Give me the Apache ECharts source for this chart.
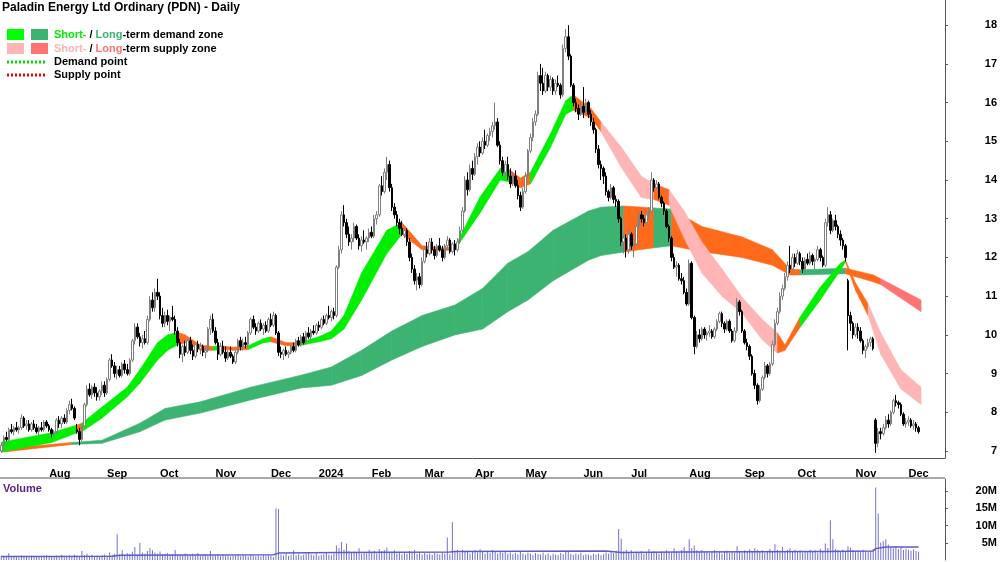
<!DOCTYPE html>
<html>
<head>
<meta charset="utf-8">
<script src="https://cdn.jsdelivr.net/npm/echarts@6/dist/echarts.min.js"></script>
<style>html,body{margin:0;padding:0;background:#fff}#chart{width:1000px;height:562px}</style>
</head>
<body>
<div id="chart"></div>
<script>
// daily bars [open, high, low, close]
var ohlc = [
[7.0,7.2,6.95,7.15],[7.15,7.4,7.1,7.35],[7.35,7.5,7.25,7.3],[7.3,7.6,7.25,7.55],[7.55,7.7,7.45,7.5],[7.5,7.65,7.4,7.6],[7.6,7.75,7.5,7.55],[7.55,7.65,7.45,7.6],[7.6,7.95,7.55,7.85],[7.85,7.9,7.6,7.65],
[7.65,7.8,7.55,7.7],[7.7,7.8,7.5,7.55],[7.55,7.75,7.5,7.7],[7.7,7.8,7.55,7.6],[7.6,7.7,7.45,7.5],[7.5,7.65,7.4,7.6],[7.6,7.75,7.5,7.55],[7.55,7.8,7.5,7.75],[7.75,7.8,7.6,7.65],[7.65,7.7,7.5,7.55],
[7.55,7.6,7.35,7.45],[7.45,7.55,7.4,7.5],[7.5,7.85,7.45,7.8],[7.8,7.9,7.6,7.7],[7.7,7.9,7.6,7.85],[7.85,7.95,7.7,7.75],[7.75,8.1,7.7,8.05],[8.05,8.3,7.95,8.2],[8.2,8.35,8.05,8.1],[8.1,8.15,7.8,7.85],
[7.55,7.7,7.45,7.5],[7.5,7.6,7.15,7.3],[7.3,7.7,7.25,7.65],[7.65,8.25,7.6,8.2],[8.2,8.7,8.15,8.6],[8.6,8.75,8.4,8.45],[8.45,8.7,8.35,8.65],[8.65,8.75,8.4,8.5],[8.5,8.65,8.3,8.4],[8.4,8.6,8.3,8.55],
[8.55,8.8,8.45,8.7],[8.7,8.8,8.4,8.5],[8.5,8.9,8.45,8.85],[8.85,9.4,8.8,9.35],[9.35,9.5,9.15,9.2],[9.2,9.3,8.9,9.0],[9.0,9.2,8.85,9.1],[9.1,9.2,8.9,8.95],[8.95,9.3,8.9,9.25],[9.25,9.35,9.0,9.1],
[9.1,9.25,8.95,9.0],[9.0,9.4,8.95,9.35],[9.35,9.9,9.3,9.85],[9.85,10.3,9.75,10.2],[10.2,10.3,9.9,9.95],[9.95,10.05,9.7,9.8],[9.8,10.0,9.65,9.9],[9.9,10.1,9.75,9.8],[9.8,10.5,9.75,10.4],[10.4,11.0,10.35,10.9],
[10.9,11.1,10.6,10.7],[10.7,11.2,10.6,11.1],[11.1,11.45,10.9,11.0],[11.0,11.1,10.4,10.5],[10.5,10.7,10.2,10.3],[10.3,10.6,10.2,10.5],[10.5,10.65,10.25,10.35],[10.35,10.5,10.1,10.45],[10.45,10.75,10.35,10.4],[10.4,10.5,10.0,10.1],
[10.1,10.2,9.7,9.8],[9.8,9.9,9.4,9.5],[9.5,9.75,9.3,9.7],[9.7,9.85,9.45,9.55],[9.55,9.9,9.5,9.85],[9.85,9.95,9.5,9.6],[9.6,9.75,9.35,9.45],[9.45,9.8,9.4,9.75],[9.75,9.85,9.55,9.65],[9.65,9.8,9.5,9.7],
[9.7,9.75,9.45,9.55],[9.55,9.7,9.4,9.6],[9.6,10.2,9.55,10.15],[10.15,10.5,10.0,10.4],[10.4,10.55,10.05,10.1],[10.1,10.2,9.75,9.8],[9.8,9.9,9.35,9.5],[9.5,9.8,9.45,9.7],[9.7,9.85,9.5,9.55],[9.55,9.7,9.3,9.4],
[9.4,9.6,9.35,9.55],[9.55,9.7,9.4,9.45],[9.45,9.5,9.25,9.3],[9.3,9.6,9.25,9.55],[9.55,9.9,9.5,9.85],[9.85,9.95,9.6,9.7],[9.7,9.9,9.6,9.8],[9.8,9.95,9.65,9.75],[9.75,10.1,9.7,10.05],[10.05,10.45,10.0,10.4],
[10.4,10.5,10.15,10.2],[10.2,10.3,10.0,10.1],[10.1,10.35,10.05,10.3],[10.3,10.4,10.1,10.15],[10.15,10.3,10.0,10.25],[10.25,10.35,10.05,10.1],[10.1,10.45,10.05,10.4],[10.4,10.55,10.2,10.25],[10.25,10.6,10.2,10.5],[10.5,10.55,10.0,10.05],
[10.05,10.1,9.45,9.55],[9.55,9.7,9.4,9.5],[9.5,9.65,9.35,9.6],[9.6,9.7,9.45,9.5],[9.5,9.6,9.4,9.55],[9.55,9.75,9.5,9.7],[9.7,9.8,9.55,9.6],[9.6,9.9,9.55,9.85],[9.85,9.95,9.7,9.75],[9.75,10.0,9.7,9.95],
[9.95,10.05,9.75,9.8],[9.8,10.1,9.75,10.05],[10.05,10.2,9.9,9.95],[9.95,10.15,9.85,10.1],[10.1,10.25,10.0,10.05],[10.05,10.3,10.0,10.25],[10.25,10.35,10.1,10.2],[10.2,10.45,10.15,10.4],[10.4,10.5,10.25,10.3],[10.3,10.55,10.25,10.5],
[10.5,10.75,10.4,10.45],[10.45,10.65,10.35,10.6],[10.6,10.7,10.4,10.5],[10.5,11.8,10.45,11.75],[11.75,12.3,11.7,12.2],[12.2,13.2,12.1,13.1],[13.1,13.35,12.8,12.9],[12.9,13.0,12.5,12.6],[12.6,12.8,12.3,12.4],[12.4,12.6,12.2,12.5],
[12.5,12.9,12.4,12.8],[12.8,12.85,12.45,12.5],[12.5,12.6,12.2,12.3],[12.3,12.55,12.15,12.45],[12.45,12.7,12.35,12.4],[12.4,12.55,12.2,12.5],[12.5,12.75,12.4,12.65],[12.65,12.8,12.5,12.55],[12.55,13.1,12.5,13.0],[13.0,13.2,12.85,13.1],
[13.1,13.9,13.05,13.85],[13.85,14.1,13.6,13.7],[13.7,14.3,13.65,14.2],[14.2,14.6,14.0,14.4],[14.4,14.5,13.7,13.8],[13.8,13.9,13.2,13.3],[13.3,13.4,13.0,13.1],[13.1,13.2,12.8,12.9],[12.9,13.0,12.6,12.75],[12.75,12.95,12.55,12.6],
[12.6,12.8,12.5,12.7],[12.7,12.75,12.3,12.4],[12.4,12.5,11.9,12.0],[12.0,12.1,11.6,11.7],[11.7,11.8,11.3,11.4],[11.4,11.6,11.15,11.5],[11.5,11.6,11.2,11.3],[11.3,12.0,11.25,11.9],[11.9,12.3,11.85,12.2],[12.2,12.4,12.0,12.1],
[12.1,12.5,12.05,12.4],[12.4,12.5,12.1,12.2],[12.2,12.3,11.95,12.05],[12.05,12.35,12.0,12.3],[12.3,12.5,12.15,12.2],[12.2,12.3,11.9,12.0],[12.0,12.35,11.95,12.3],[12.3,12.55,12.2,12.45],[12.45,12.5,12.1,12.15],[12.15,12.4,12.1,12.35],
[12.35,12.45,12.05,12.2],[12.2,12.5,12.15,12.4],[12.4,12.8,12.35,12.7],[12.7,13.3,12.65,13.2],[13.2,14.1,13.15,14.0],[14.0,14.2,13.6,13.75],[13.75,14.4,13.7,14.3],[14.3,14.5,14.0,14.15],[14.15,14.7,14.1,14.6],[14.6,14.95,14.4,14.85],
[14.85,15.0,14.6,14.7],[14.7,15.1,14.65,15.0],[15.0,15.3,14.8,14.9],[14.9,15.2,14.85,15.15],[15.15,15.35,15.0,15.25],[15.25,15.5,15.1,15.4],[15.4,16.0,15.3,15.5],[15.5,15.6,14.85,14.9],[14.9,15.0,14.4,14.5],[14.5,14.6,14.1,14.2],
[14.2,14.5,14.1,14.4],[14.4,14.6,14.0,14.1],[14.1,14.3,13.8,13.9],[13.9,14.2,13.85,14.1],[14.1,14.25,13.8,13.85],[13.85,14.0,13.5,13.6],[13.6,13.7,13.2,13.3],[13.3,13.8,13.25,13.7],[13.7,14.2,13.65,14.1],[14.1,14.8,14.05,14.75],
[14.75,15.2,14.7,15.1],[15.1,15.6,15.0,15.5],[15.5,15.8,15.4,15.7],[15.7,16.8,15.65,16.7],[16.7,17.0,16.3,16.5],[16.5,16.9,16.2,16.3],[16.3,16.8,16.25,16.7],[16.7,16.75,16.3,16.4],[16.4,16.7,16.3,16.6],[16.6,16.65,16.2,16.3],
[16.3,16.6,16.2,16.5],[16.5,16.7,16.4,16.45],[16.45,16.5,16.1,16.2],[16.2,17.5,16.15,17.4],[17.4,17.9,17.3,17.7],[17.7,18.0,17.1,17.2],[17.2,17.25,16.4,16.45],[16.45,16.5,15.9,16.0],[16.0,16.1,15.75,15.85],[15.85,15.95,15.55,15.7],
[15.7,16.0,15.65,15.9],[15.9,16.4,15.6,15.75],[15.75,16.1,15.7,16.0],[16.0,16.05,15.6,15.7],[15.7,15.8,15.4,15.5],[15.5,15.6,15.2,15.3],[15.3,15.35,14.7,14.8],[14.8,14.9,14.3,14.4],[14.4,14.5,14.0,14.3],[14.3,14.35,13.9,14.1],
[14.1,14.2,13.6,13.7],[13.7,13.75,13.45,13.55],[13.55,13.9,13.5,13.8],[13.8,13.85,13.4,13.5],[13.5,13.6,13.3,13.45],[13.45,13.5,12.9,13.0],[13.0,13.05,12.3,12.4],[12.4,12.6,12.1,12.5],[12.5,12.6,12.0,12.2],[12.2,12.7,12.1,12.6],
[12.6,12.65,12.2,12.3],[12.3,12.4,12.0,12.35],[12.35,12.9,12.3,12.8],[12.8,13.2,12.75,13.1],[13.1,13.2,12.9,13.0],[13.0,13.1,12.8,12.9],[12.9,13.2,12.85,13.1],[13.1,13.3,13.0,13.2],[13.2,14.2,13.15,14.0],[14.0,14.05,13.7,13.8],
[13.8,14.0,13.75,13.9],[13.9,13.95,13.5,13.55],[13.55,13.6,13.3,13.4],[13.4,13.45,13.1,13.2],[13.2,13.25,12.75,12.8],[12.8,12.85,12.4,12.5],[12.5,12.55,11.9,12.0],[12.0,12.1,11.7,11.75],[11.75,11.9,11.5,11.8],[11.8,11.85,11.4,11.45],
[11.45,11.6,11.3,11.4],[11.4,11.5,11.05,11.1],[11.1,11.2,10.75,10.8],[10.8,11.95,10.75,11.85],[11.85,11.9,10.4,10.45],[10.45,10.5,9.5,9.7],[9.7,10.1,9.65,10.0],[10.0,10.15,9.8,9.9],[9.9,10.2,9.85,10.15],[10.15,10.2,9.9,10.0],
[10.0,10.1,9.85,10.05],[10.05,10.25,9.95,10.1],[10.1,10.15,9.9,9.95],[9.95,10.2,9.9,10.15],[10.15,10.4,10.1,10.35],[10.35,10.6,10.3,10.55],[10.55,10.6,10.2,10.3],[10.3,10.35,10.05,10.15],[10.15,10.4,10.1,10.35],[10.35,10.4,10.05,10.1],
[10.1,10.15,9.8,9.85],[9.85,10.2,9.8,10.1],[10.1,10.95,10.05,10.85],[10.85,10.9,10.5,10.6],[10.6,10.65,10.05,10.1],[10.1,10.15,9.75,9.8],[9.8,9.9,9.6,9.7],[9.7,9.75,9.35,9.45],[9.45,9.5,8.95,9.0],[9.0,9.1,8.6,8.7],
[8.7,8.75,8.2,8.3],[8.3,8.7,8.25,8.6],[8.6,8.95,8.55,8.9],[8.9,9.3,8.85,9.2],[9.2,9.25,8.9,9.0],[9.0,9.3,8.95,9.25],[9.25,9.85,9.2,9.75],[9.75,10.4,9.7,10.3],[10.3,10.7,10.25,10.6],[10.6,11.1,10.55,11.0],
[11.0,11.3,10.9,11.2],[11.2,11.6,11.15,11.5],[11.5,11.9,11.4,11.8],[11.8,12.3,11.6,11.7],[11.7,12.1,11.65,12.0],[12.0,12.1,11.75,11.85],[11.85,12.2,11.8,12.1],[12.1,12.15,11.8,11.9],[11.9,12.0,11.6,11.7],[11.7,12.0,11.65,11.95],
[11.95,12.1,11.8,11.85],[11.85,12.15,11.8,12.05],[12.05,12.1,11.8,11.9],[11.9,12.0,11.7,11.95],[11.95,12.3,11.9,12.2],[12.2,12.25,11.9,12.0],[12.0,12.05,11.75,11.8],[11.8,13.0,11.75,12.9],[12.9,13.3,12.8,13.1],[13.1,13.2,12.6,12.7],
[12.7,13.0,12.65,12.95],[12.95,13.1,12.7,12.8],[12.8,12.85,12.5,12.6],[12.6,12.7,12.3,12.45],[12.45,12.5,12.2,12.3],[12.3,12.35,11.9,12.0],[11.4,11.45,9.6,10.5],[10.5,10.6,10.1,10.3],[10.3,10.35,9.9,10.0],[10.0,10.3,9.95,10.2],
[10.2,10.3,9.9,10.1],[10.1,10.2,9.8,9.85],[9.85,9.9,9.5,9.6],[9.6,9.75,9.4,9.7],[9.7,9.9,9.65,9.8],[9.8,9.95,9.7,9.9],[9.9,9.95,9.6,9.65],[7.8,7.85,6.95,7.2],[7.2,7.6,7.1,7.5],[7.5,7.6,7.3,7.45],
[7.45,7.7,7.4,7.6],[7.6,7.9,7.55,7.8],[7.8,7.95,7.6,7.7],[7.7,8.05,7.65,8.0],[8.0,8.35,7.95,8.3],[8.3,8.45,8.15,8.25],[8.25,8.3,8.1,8.2],[8.2,8.25,7.9,7.95],[7.95,8.0,7.65,7.7],[7.7,7.85,7.6,7.75],
[7.75,7.9,7.65,7.8],[7.8,7.85,7.6,7.65],[7.65,7.8,7.55,7.7],[7.7,7.75,7.5,7.6],[7.6,7.65,7.45,7.5]
];

// daily volume, millions
var volume = [
1.2,0.9,1.0,2.0,0.8,0.9,1.1,0.7,1.3,0.9,1.0,0.8,1.2,0.9,1.1,1.0,0.8,1.2,1.4,1.0,
0.9,1.1,1.3,1.0,1.5,1.2,1.1,1.4,1.0,1.6,1.3,1.1,2.6,1.4,1.8,1.2,1.5,1.1,1.3,1.0,
1.4,1.6,1.2,2.2,1.5,1.8,7.5,1.6,2.8,1.4,2.0,1.7,2.4,3.8,1.5,5.0,2.2,1.8,2.6,3.5,
2.8,2.2,1.9,2.5,1.6,1.8,2.0,1.4,1.7,2.9,1.5,1.6,1.3,1.9,1.5,1.2,1.8,1.4,2.0,1.3,
1.5,1.7,1.2,2.6,1.4,1.3,1.6,1.1,1.5,1.2,1.4,1.0,1.3,1.2,1.6,1.1,1.4,1.2,1.0,1.5,
1.3,1.1,1.2,1.0,1.4,1.1,1.3,1.2,0.9,15.0,14.8,1.6,1.3,1.8,1.2,1.5,2.8,1.4,1.7,1.3,
1.5,1.8,2.3,1.6,1.4,1.9,1.2,1.5,1.7,2.0,1.6,1.4,1.8,4.2,3.5,5.2,3.0,4.8,2.6,2.2,
2.5,2.0,3.4,1.8,2.2,1.9,3.0,2.4,2.7,1.9,3.2,2.6,2.9,3.6,2.3,2.0,2.8,1.9,2.1,1.7,
2.0,1.8,2.6,2.2,2.9,1.8,2.4,1.6,2.0,1.7,1.9,1.5,2.1,1.8,1.6,2.3,1.9,6.5,1.7,11.0,
2.6,2.9,2.1,3.0,2.4,2.7,1.9,2.5,2.8,2.2,3.1,2.6,1.8,2.4,2.0,2.9,2.3,1.9,2.5,2.1,
2.4,1.8,2.2,1.7,2.0,1.6,2.3,1.9,1.5,2.1,1.8,1.4,2.0,1.7,1.6,2.2,1.5,1.9,1.3,1.8,
1.6,1.4,2.0,1.7,2.6,2.4,1.8,1.5,1.9,1.6,2.1,1.4,1.7,1.5,1.3,1.8,1.6,1.9,1.4,1.7,
2.2,1.8,2.4,2.0,2.7,9.0,6.2,2.5,3.0,2.2,2.8,1.9,2.4,2.1,2.6,1.8,2.3,3.2,2.0,2.6,
2.2,1.9,2.5,2.1,2.8,2.3,2.0,3.4,2.5,2.2,2.9,3.8,2.6,6.0,3.5,4.2,2.8,2.4,3.0,2.2,
2.6,2.0,2.4,2.9,2.1,2.5,1.9,2.3,2.7,2.0,2.6,2.2,4.0,2.4,2.1,2.8,2.3,3.1,2.6,3.4,
3.0,2.5,2.8,2.2,2.6,3.2,2.4,4.6,3.0,2.7,3.8,2.5,2.9,3.4,2.6,3.0,2.4,2.8,2.2,2.6,
2.3,3.0,2.5,2.8,2.1,3.3,2.6,4.8,3.5,11.5,6.0,3.2,2.8,2.5,3.0,2.6,4.0,3.6,2.9,2.4,
2.8,2.5,3.0,2.6,2.3,2.7,3.2,21.0,13.5,5.0,5.5,6.0,4.5,3.8,3.4,4.0,3.2,3.6,2.9,3.3,
3.0,2.7,3.1,2.6,2.4
];

// volume average line [bar index, millions]
var volAvg = [[0,1.0],[44,1.1],[47,1.4],[108,1.5],[110,2.0],[135,2.2],[178,2.3],[180,2.5],[240,2.6],[246,2.2],[270,2.3],[300,2.4],[328,2.5],[346,2.6],[347,3.3],[351,3.8],[364,3.8]];

// zone edges: [bar index, upper, lower, state of the following segment]
// g = demand, o = neutral/turning, p = supply
var shortZone = [
[0,7.23,6.98,'g'],[10,7.35,7.1,'g'],[20,7.47,7.22,'g'],[30,7.67,7.47,'o'],[32,7.72,7.5,'g'],[40,8.14,7.85,'g'],
[50,8.65,8.4,'g'],[55,9.1,8.75,'g'],[62,9.8,9.35,'g'],[66,10.0,9.6,'g'],[70,10.07,9.74,'o'],[73,10.0,9.8,'o'],
[79,9.74,9.6,'o'],[84,9.7,9.6,'g'],[87,9.72,9.62,'o'],[92,9.68,9.6,'o'],[98,9.72,9.62,'g'],[104,9.9,9.8,'g'],
[107,9.95,9.82,'o'],[113,9.8,9.72,'o'],[118,9.8,9.72,'g'],[126,9.95,9.82,'g'],[131,10.1,9.9,'g'],[136,10.5,10.15,'g'],
[143,11.6,10.9,'g'],[153,12.7,12.1,'g'],[159,12.9,12.6,'o'],[167,12.3,12.2,'o'],[175,12.25,12.17,'o'],[180,12.27,12.2,'g'],
[190,13.56,13.15,'g'],[198,14.3,14.0,'g'],[202,14.25,13.95,'o'],[206,14.05,13.8,'o'],[210,14.2,13.9,'g'],[218,15.2,14.85,'g'],
[224,16.05,15.7,'g'],[227,16.2,15.8,'o'],[234,15.85,15.6,'o'],[238,15.5,15.25,'p'],[246,14.85,14.33,'p'],[254,14.1,13.55,'p'],
[259,13.9,13.5,'o'],[265,13.75,13.35,'p'],[271,13.2,12.5,'p'],[278,12.4,11.6,'p'],[286,11.7,11.0,'p'],[294,10.97,10.56,'p'],
[302,10.4,9.87,'p'],[308,10.05,9.53,'o'],[311,9.74,9.6,'o'],[317,10.46,10.2,'g'],[325,11.23,10.9,'g'],[333,11.85,11.67,'g'],
[335,11.93,11.88,'o'],[339,11.34,11.15,'o'],[344,10.8,10.5,'p'],[349,10.05,9.5,'p'],[357,9.1,8.6,'p'],[365,8.65,8.2,'p']
];
var longZone = [
[0,7.05,6.97,'o'],[28,7.22,7.17,'g'],[40,7.28,7.2,'g'],[55,7.72,7.5,'g'],[65,8.1,7.8,'g'],[79,8.27,7.98,'g'],
[99,8.65,8.32,'g'],[119,8.96,8.63,'g'],[131,9.17,8.7,'g'],[143,9.6,8.95,'g'],[155,10.1,9.35,'g'],[167,10.5,9.7,'g'],
[180,10.77,10.0,'g'],[191,11.2,10.15,'g'],[201,11.85,10.6,'g'],[209,12.15,10.9,'g'],[219,12.7,11.4,'g'],[233,13.2,11.93,'g'],
[238,13.3,12.05,'g'],[247,13.33,12.14,'o'],[259,13.28,12.25,'g'],[266,13.25,12.3,'o'],[278,12.8,12.15,'o'],[294,12.53,12.0,'o'],
[306,12.2,11.8,'o'],[313,11.7,11.55,'o'],[317,11.68,11.55,'g'],[335,11.72,11.58,'o'],[346,11.55,11.37,'o'],[349,11.45,11.3,'p'],
[365,10.9,10.6,'p']
];

var priceTicks = [7,8,9,10,11,12,13,14,15,16,17,18];
var volTicks = [5,10,15,20];
var monthNames = ['Jan','Feb','Mar','Apr','May','Jun','Jul','Aug','Sep','Oct','Nov','Dec'];
var holidays = ['2023-12-25','2023-12-26','2024-01-01','2024-01-26','2024-03-29','2024-04-01','2024-04-25','2024-06-10'];

var shortColors = {g:'#00ee00', o:'#ff6a1a', p:'#ffb5b5'};
var longColors = {g:'#3cb371', o:'#ff6a1a', p:'#ff7373'};

// trading day categories
var days = [];
var d = new Date(Date.UTC(2023, 6, 5));
while (days.length < ohlc.length) {
    var wd = d.getUTCDay();
    var key = d.toISOString().slice(0, 10);
    if (wd !== 0 && wd !== 6 && holidays.indexOf(key) < 0) days.push(key);
    d.setUTCDate(d.getUTCDate() + 1);
}
var cats = days.slice();
for (var k = 0; k < 10; k++) cats.push('');

function monthStart(i) {
    if (i === 0 || !cats[i] || !cats[i - 1]) return false;
    return cats[i].slice(5, 7) !== cats[i - 1].slice(5, 7);
}

function segments(pts) {
    var out = [];
    for (var i = 0; i < pts.length - 1; i++) {
        var a = pts[i], b = pts[i + 1];
        out.push([a[0], a[1], a[2], b[0], b[1], b[2], a[3]]);
    }
    return out;
}

function zoneSeries(pts, colors) {
    var segs = segments(pts);
    return {
        type: 'custom',
        xAxisIndex: 0, yAxisIndex: 0,
        silent: true,
        z: 1,
        data: segs,
        encode: {x: [0, 3], y: [1, 2, 4, 5]},
        renderItem: function (params, api) {
            var s = segs[params.dataIndex];
            var p1 = api.coord([s[0], s[1]]), p2 = api.coord([s[3], s[4]]);
            var p3 = api.coord([s[3], s[5]]), p4 = api.coord([s[0], s[2]]);
            var c = colors[s[6]];
            return {
                type: 'polygon',
                shape: {points: [p1, p2, p3, p4]},
                style: {fill: c, stroke: c, lineWidth: 0.6}
            };
        }
    };
}

var candles = ohlc.map(function (r) { return [r[0], r[3], r[2], r[1]]; });

var myChart = echarts.init(document.getElementById('chart'));
var labelFont = {fontFamily: 'Liberation Sans, Arial', fontWeight: 'bold', fontSize: 11, color: '#000'};

myChart.setOption({
    animation: false,
    backgroundColor: '#fff',
    grid: [
        {left: 0, right: 55, top: 0, height: 458},
        {left: 0, right: 55, top: 479, height: 81}
    ],
    xAxis: [
        {
            type: 'category', gridIndex: 0, data: cats,
            axisLine: {lineStyle: {color: '#555'}},
            axisTick: {interval: function (i) { return monthStart(i); }, length: 4, lineStyle: {color: '#555'}},
            axisLabel: Object.assign({
                interval: function (i) { return monthStart(i); },
                align: 'left', margin: 10,
                formatter: function (v) {
                    if (!v) return '';
                    var m = +v.slice(5, 7);
                    return m === 1 ? v.slice(0, 4) : monthNames[m - 1];
                }
            }, labelFont),
            splitLine: {show: false}
        },
        {
            type: 'category', gridIndex: 1, data: cats,
            axisLine: {show: false}, axisTick: {show: false}, axisLabel: {show: false}
        }
    ],
    yAxis: [
        {
            type: 'value', gridIndex: 0, position: 'right',
            min: 6.82, max: 18.65,
            axisLine: {show: true, lineStyle: {color: '#555'}},
            axisTick: {show: true, customValues: priceTicks, length: 3, lineStyle: {color: '#555'}},
            axisLabel: Object.assign({customValues: priceTicks, align: 'right', margin: 52}, labelFont),
            splitLine: {show: false}
        },
        {
            type: 'value', gridIndex: 1, position: 'right',
            min: 0, max: 23.5,
            axisLine: {show: true, lineStyle: {color: '#555'}},
            axisTick: {show: true, customValues: volTicks, length: 3, lineStyle: {color: '#555'}},
            axisLabel: Object.assign({customValues: volTicks, align: 'right', margin: 52,
                formatter: function (v) { return v + 'M'; }}, labelFont),
            splitLine: {show: false}
        }
    ],
    series: [
        zoneSeries(longZone, longColors),
        zoneSeries(shortZone, shortColors),
        {
            type: 'candlestick', xAxisIndex: 0, yAxisIndex: 0,
            data: candles, barWidth: 2, z: 3,
            itemStyle: {color: '#ffffff', color0: '#000000', borderColor: '#808080', borderColor0: '#000000', borderWidth: 1}
        },
        {
            type: 'bar', xAxisIndex: 1, yAxisIndex: 1,
            data: volume, barWidth: 1,
            itemStyle: {color: '#7272d2'}
        },
        {
            type: 'line', xAxisIndex: 1, yAxisIndex: 1,
            data: volAvg, showSymbol: false, z: 4,
            lineStyle: {color: '#5c5cc4', width: 1.5}
        }
    ],
    graphic: [
        {type: 'line', shape: {x1: 0, y1: 478, x2: 945, y2: 478}, style: {stroke: '#555', lineWidth: 1}},
        {type: 'text', left: 2, top: 2, style: {text: 'Paladin Energy Ltd Ordinary (PDN) - Daily', font: 'bold 12px Liberation Sans, Arial', fill: '#000'}},
        {type: 'rect', shape: {x: 7, y: 29, width: 17, height: 11}, style: {fill: '#00ff00'}},
        {type: 'rect', shape: {x: 31, y: 29, width: 17, height: 11}, style: {fill: '#3cb371'}},
        {type: 'rect', shape: {x: 7, y: 43, width: 17, height: 11}, style: {fill: '#ffb5b5'}},
        {type: 'rect', shape: {x: 31, y: 43, width: 17, height: 11}, style: {fill: '#ff7373'}},
        {type: 'text', left: 54, top: 29, style: {
            text: '{a|Short-} / {b|Long}-term demand zone',
            font: 'bold 11px Liberation Sans, Arial', fill: '#000',
            rich: {a: {fill: '#00ee00', font: 'bold 11px Liberation Sans, Arial'}, b: {fill: '#3cb371', font: 'bold 11px Liberation Sans, Arial'}}
        }},
        {type: 'text', left: 54, top: 43, style: {
            text: '{a|Short-} / {b|Long}-term supply zone',
            font: 'bold 11px Liberation Sans, Arial', fill: '#000',
            rich: {a: {fill: '#ffb5b5', font: 'bold 11px Liberation Sans, Arial'}, b: {fill: '#ff7373', font: 'bold 11px Liberation Sans, Arial'}}
        }},
        {type: 'line', shape: {x1: 7, y1: 62, x2: 47, y2: 62}, style: {stroke: '#00dd00', lineWidth: 3, lineDash: [2, 2]}},
        {type: 'line', shape: {x1: 7, y1: 75, x2: 47, y2: 75}, style: {stroke: '#ee0000', lineWidth: 3, lineDash: [2, 2]}},
        {type: 'text', left: 54, top: 56, style: {text: 'Demand point', font: 'bold 11px Liberation Sans, Arial', fill: '#000'}},
        {type: 'text', left: 54, top: 69, style: {text: 'Supply point', font: 'bold 11px Liberation Sans, Arial', fill: '#000'}},
        {type: 'text', left: 3, top: 483, style: {text: 'Volume', font: 'bold 11px Liberation Sans, Arial', fill: '#5b1f8f'}}
    ]
});
window.addEventListener('resize', function () { myChart.resize(); });
</script>
</body>
</html>
